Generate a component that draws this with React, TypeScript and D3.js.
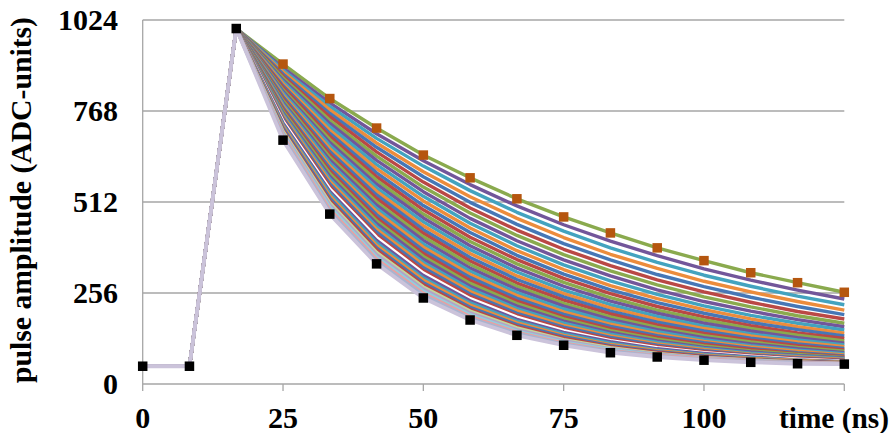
import React from "react";
import * as d3 from "d3";

const times = [0, 8.33, 16.67, 25, 33.33, 41.67, 50, 58.33, 66.67, 75, 83.33, 91.67, 100, 108.33, 116.67, 125];
const riseValues = [50, 50, 1000];
const xTickValues = [0, 25, 50, 75, 100, 125];
const xTickLabels = ["0", "25", "50", "75", "100", ""];
const yTickValues = [0, 256, 512, 768, 1024];

const s0 = [900, 803, 720, 644, 580, 521, 470, 425, 383, 347, 313, 285, 258];
const s1 = [889, 791, 704, 628, 561, 501, 448, 402, 361, 324, 292, 264, 239];
const s2 = [883, 781, 691, 613, 544, 483, 430, 383, 342, 306, 275, 247, 223];
const s3 = [878, 771, 678, 597, 527, 466, 412, 365, 325, 289, 259, 232, 208];
const s4 = [872, 761, 666, 583, 511, 449, 395, 349, 308, 274, 244, 218, 195];
const s5 = [866, 752, 653, 568, 495, 433, 379, 333, 293, 259, 230, 204, 183];
const s6 = [861, 742, 641, 554, 481, 418, 364, 318, 279, 245, 217, 192, 171];
const s7 = [855, 733, 629, 541, 466, 403, 349, 304, 265, 232, 205, 181, 161];
const s8 = [850, 724, 617, 528, 452, 389, 335, 290, 252, 220, 193, 171, 152];
const s9 = [845, 714, 606, 515, 439, 375, 322, 277, 240, 209, 183, 161, 143];
const s10 = [839, 705, 594, 502, 426, 362, 309, 265, 229, 199, 173, 153, 135];
const s11 = [834, 697, 583, 490, 413, 350, 297, 254, 218, 189, 164, 144, 128];
const s12 = [828, 688, 573, 478, 401, 338, 286, 243, 208, 180, 156, 137, 121];
const s13 = [823, 679, 562, 467, 389, 326, 275, 233, 199, 171, 149, 130, 115];
const s14 = [818, 671, 552, 456, 378, 315, 264, 223, 190, 163, 141, 124, 110];
const s15 = [813, 662, 542, 445, 367, 304, 254, 214, 182, 156, 135, 118, 105];
const s16 = [808, 654, 532, 434, 356, 294, 245, 205, 174, 149, 129, 113, 100];
const s17 = [802, 646, 522, 424, 346, 284, 236, 197, 166, 142, 123, 108, 96];
const s18 = [797, 638, 512, 414, 336, 275, 227, 189, 159, 136, 118, 103, 92];
const s19 = [792, 630, 503, 404, 326, 266, 219, 182, 153, 130, 113, 99, 88];
const s20 = [787, 622, 494, 394, 317, 257, 211, 175, 147, 125, 108, 95, 85];
const s21 = [782, 614, 485, 385, 308, 249, 203, 168, 141, 120, 104, 92, 82];
const s22 = [777, 607, 476, 376, 300, 241, 196, 162, 136, 116, 100, 88, 79];
const s23 = [772, 599, 467, 367, 291, 233, 189, 156, 131, 111, 97, 85, 77];
const s24 = [767, 592, 459, 359, 283, 226, 183, 150, 126, 107, 93, 83, 75];
const s25 = [762, 584, 451, 351, 275, 219, 177, 145, 121, 103, 90, 80, 73];
const s26 = [758, 577, 443, 342, 268, 212, 171, 140, 117, 100, 87, 78, 71];
const s27 = [753, 570, 435, 335, 260, 206, 165, 135, 113, 97, 84, 76, 69];
const s28 = [748, 563, 427, 327, 253, 199, 160, 131, 109, 94, 82, 74, 67];
const s29 = [743, 556, 419, 319, 247, 193, 155, 126, 106, 91, 80, 72, 66];
const s30 = [739, 549, 412, 312, 240, 188, 150, 122, 102, 88, 78, 70, 64];
const s31 = [734, 542, 404, 305, 234, 182, 145, 119, 99, 86, 76, 68, 63];
const s32 = [729, 536, 397, 298, 228, 177, 141, 115, 96, 83, 74, 67, 62];
const s33 = [725, 529, 390, 292, 222, 172, 137, 111, 94, 81, 72, 66, 61];
const s34 = [720, 523, 383, 285, 216, 167, 133, 108, 91, 79, 70, 64, 60];
const s35 = [715, 516, 377, 279, 210, 162, 129, 105, 89, 77, 69, 63, 59];
const s36 = [711, 510, 370, 273, 205, 158, 125, 102, 86, 75, 68, 62, 58];
const s37 = [706, 504, 364, 267, 200, 153, 122, 99, 84, 74, 66, 61, 58];
const s38 = [702, 498, 357, 261, 195, 149, 118, 97, 82, 72, 65, 60, 57];
const s39 = [698, 491, 351, 255, 190, 145, 115, 94, 80, 71, 64, 60, 57];
const s40 = [693, 485, 345, 250, 185, 142, 112, 92, 78, 69, 63, 59, 56];
const s41 = [686, 478, 338, 242, 180, 137, 109, 88, 76, 67, 61, 57, 56];

const decaySeries = [s0, s1, s2, s3, s4, s5, s6, s7, s8, s9, s10, s11, s12, s13, s14, s15, s16, s17, s18, s19, s20,
  s21, s22, s23, s24, s25, s26, s27, s28, s29, s30, s31, s32, s33, s34, s35, s36, s37, s38, s39, s40, s41];

const palette = ["#8AAA4E", "#72569A", "#43A3BF", "#EC8C3C", "#4677B6", "#BA4845"];
const seriesColors = decaySeries.map((_, i) => {
  if (i === 30) return "#FFFFFF";
  if (i === 41) return "#CBC3DA";
  if (i >= 36) return ["#C3D69B", "#B3A2C7", "#93CDDD", "#E9A0A0", "#A8B4D0"][i - 36];
  return palette[i % 6];
});

const W = 892, H = 433;
const x = d3.scaleLinear().domain([0, 125]).range([142.7, 844.3]);
const y = d3.scaleLinear().domain([0, 1024]).range([384, 20]);
const font = "'Liberation Serif', 'Times New Roman', serif";

export default function App() {
  const line = d3.line<[number, number]>().x(d => x(d[0])).y(d => y(d[1]));
  const full = (vals: number[]) => riseValues.concat(vals).map((v, i) => [times[i], v] as [number, number]);
  const topSeries = full(decaySeries[0]);
  const bottomSeries = full(decaySeries[decaySeries.length - 1]);
  const ms = 9.5;
  return (
    <svg width={W} height={H} style={{ position: "absolute", left: 0, top: 0, background: "#fff" }}>
      {yTickValues.filter(v => v > 0).map(v => (
        <line key={v} x1={x(0)} x2={x(125)} y1={y(v)} y2={y(v)} stroke="#A6A6A6" strokeWidth={1.3} />
      ))}
      <line x1={x(0)} x2={x(0)} y1={y(1024)} y2={y(0)} stroke="#A6A6A6" strokeWidth={1.3} />
      <line x1={x(0)} x2={x(125)} y1={y(0)} y2={y(0)} stroke="#A6A6A6" strokeWidth={1.3} />
      {xTickValues.map(v => (
        <line key={v} x1={x(v)} x2={x(v)} y1={y(0)} y2={y(0) + 7} stroke="#A6A6A6" strokeWidth={1.3} />
      ))}
      {decaySeries.map((s, i) => (
        <path key={i} d={line(full(s)) || ""} fill="none" stroke={seriesColors[i]}
          strokeWidth={i === decaySeries.length - 1 ? 3.8 : 3.4} strokeLinejoin="round" />
      ))}
      {topSeries.slice(3).map((d, i) => (
        <rect key={"t" + i} x={x(d[0]) - ms / 2} y={y(d[1]) - ms / 2} width={ms} height={ms} fill="#B5560F" />
      ))}
      {bottomSeries.map((d, i) => (
        <rect key={"b" + i} x={x(d[0]) - ms / 2} y={y(d[1]) - ms / 2} width={ms} height={ms} fill="#000" />
      ))}
      {yTickValues.map(v => (
        <text key={v} x={118} y={y(v) + 10} textAnchor="end" fontFamily={font} fontWeight="bold" fontSize={30} fill="#000">
          {v}
        </text>
      ))}
      {xTickValues.map((v, i) => (
        <text key={v} x={x(v)} y={428} textAnchor="middle" fontFamily={font} fontWeight="bold" fontSize={30} fill="#000">
          {xTickLabels[i]}
        </text>
      ))}
      <text x={779} y={428} textLength={110} lengthAdjust="spacingAndGlyphs" fontFamily={font} fontWeight="bold" fontSize={30} fill="#000">time (ns)</text>
      <text transform={`translate(31,383) rotate(-90)`} textLength={366} lengthAdjust="spacingAndGlyphs" fontFamily={font} fontWeight="bold" fontSize={30} fill="#000">
        pulse amplitude (ADC-units)
      </text>
    </svg>
  );
}
